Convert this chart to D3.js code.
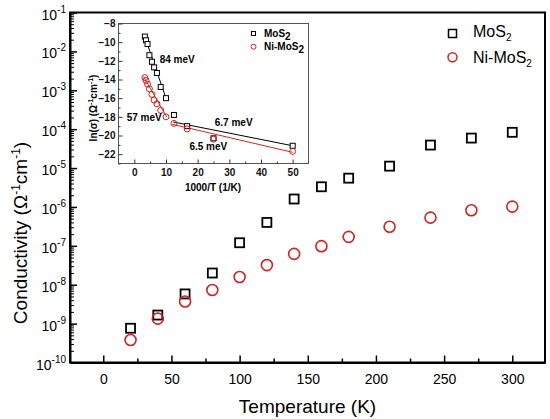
<!DOCTYPE html>
<html>
<head>
<meta charset="utf-8">
<script src="https://cdn.jsdelivr.net/npm/d3@7"></script>
<style>
  body { margin: 0; background: #fff; }
  text { font-family: "Liberation Sans", Arial, sans-serif; }
</style>
</head>
<body>
<svg id="chart" width="550" height="419"></svg>
<script>
// main plot: conductivity vs temperature
var temps = [20, 40, 60, 80, 100, 120, 140, 160, 180, 210, 240, 270, 300];
var sigmaMoS2 = [7.6e-10, 1.66e-9, 5.8e-9, 2.0e-8, 1.2e-7, 4.0e-7, 1.6e-6, 3.3e-6, 5.5e-6, 1.12e-5, 3.9e-5, 5.9e-5, 8.3e-5];
var sigmaNi = [3.8e-10, 1.34e-9, 3.7e-9, 7.3e-9, 1.58e-8, 3.2e-8, 6.2e-8, 9.8e-8, 1.7e-7, 3.1e-7, 5.3e-7, 8.2e-7, 1.02e-6];
var xTicks = [0, 50, 100, 150, 200, 250, 300];
var xMinor = [25, 75, 125, 175, 225, 275];
var yExps = [-10, -9, -8, -7, -6, -5, -4, -3, -2, -1];

// inset: ln(sigma) vs 1000/T
var invT = [3.33, 3.70, 4.17, 4.76, 5.56, 6.25, 7.14, 8.33, 10.0, 12.5, 16.67, 25.0, 50.0];
var lnMoS2 = [-9.4, -9.8, -10.2, -11.4, -12.1, -12.7, -13.3, -14.8, -16.0, -17.8, -19.0, -20.3, -21.1];
var lnNi = [-13.8, -14.1, -14.5, -15.0, -15.6, -16.2, -16.6, -17.3, -18.0, -18.7, -19.3, -20.4, -21.7];
var insetXTicks = [0, 10, 20, 30, 40, 50];
var insetXMinor = [5, 15, 25, 35, 45];
var insetYTicks = [-22, -20, -18, -16, -14, -12, -10, -8];
var insetYMinor = [-23, -21, -19, -17, -15, -13, -11, -9];
var fitMoS2 = [[[3.3, -9.4], [10.1, -16.1]], [[12.3, -18.55], [50, -21.1]]];
var fitNi = [[[2.9, -13.7], [10.2, -18.0]], [[12.0, -18.8], [50, -21.8]]];
var fitLabels = [
  { text: '84 meV', x: 8.0, y: -12.2 },
  { text: '57 meV', x: -2.4, y: -18.4 },
  { text: '6.7 meV', x: 25.4, y: -19.0 },
  { text: '6.5 meV', x: 17.4, y: -21.6 }
];

var RED = '#d02323';
var svg = d3.select('#chart');

var x = d3.scaleLinear().domain([-24.4, 324]).range([70, 545]);
var y = d3.scaleLog().domain([1e-10, 1e-1]).range([362.5, 12.5]);

// frame
svg.append('rect')
  .attr('x', 70).attr('y', 12.5)
  .attr('width', 475).attr('height', 350)
  .attr('fill', 'none').attr('stroke', '#000').attr('stroke-width', 2);

// x axis
var xAxis = svg.append('g')
  .attr('transform', 'translate(0,362.5)')
  .call(d3.axisBottom(x).tickValues(xTicks).tickSizeInner(-7).tickSizeOuter(0).tickPadding(12));
xAxis.select('.domain').attr('stroke-width', 2);
xAxis.selectAll('.tick line').attr('stroke-width', 1.5);
xAxis.selectAll('.tick text').style('font-size', '14px').attr('fill', '#000');

var xAxisMinor = svg.append('g')
  .attr('transform', 'translate(0,362.5)')
  .call(d3.axisBottom(x).tickValues(xMinor).tickSizeInner(-4).tickSizeOuter(0).tickFormat(''));
xAxisMinor.select('.domain').remove();
xAxisMinor.selectAll('.tick line').attr('stroke-width', 1.5);

// y axis (log)
var yMinor = y.ticks().filter(function(v) {
  return Math.abs(Math.log10(v) - Math.round(Math.log10(v))) > 1e-6;
});
var yAxis = svg.append('g')
  .attr('transform', 'translate(70,0)')
  .call(d3.axisLeft(y).tickValues(yExps.map(function(e) { return Math.pow(10, e); }))
    .tickSizeInner(-7).tickSizeOuter(0).tickFormat(''));
yAxis.select('.domain').attr('stroke-width', 2);
yAxis.selectAll('.tick line').attr('stroke-width', 1.5);

var yAxisMinor = svg.append('g')
  .attr('transform', 'translate(70,0)')
  .call(d3.axisLeft(y).tickValues(yMinor).tickSizeInner(-4).tickSizeOuter(0).tickFormat(''));
yAxisMinor.select('.domain').remove();
yAxisMinor.selectAll('.tick line').attr('stroke-width', 1);

var yLab = svg.append('g').selectAll('text')
  .data(yExps).enter().append('text')
  .attr('x', 66)
  .attr('y', function(e) { return y(Math.pow(10, e)) + 7; })
  .attr('text-anchor', 'end')
  .style('font-size', '14px');
yLab.append('tspan').text('10');
yLab.append('tspan').attr('dy', -7).style('font-size', '10px').text(function(e) { return e; });

// axis titles
svg.append('text')
  .attr('x', 307.5).attr('y', 413)
  .attr('text-anchor', 'middle')
  .style('font-size', '19px')
  .text('Temperature (K)');

var yTitle = svg.append('text')
  .attr('transform', 'translate(27,233) rotate(-90)')
  .attr('text-anchor', 'middle')
  .style('font-size', '19px');
yTitle.append('tspan').text('Conductivity (\u03A9');
yTitle.append('tspan').attr('dy', -7).style('font-size', '12px').text('-1');
yTitle.append('tspan').attr('dy', 7).text('cm');
yTitle.append('tspan').attr('dy', -7).style('font-size', '12px').text('-1');
yTitle.append('tspan').attr('dy', 7).text(')');

// main markers
svg.append('g').selectAll('rect')
  .data(temps).enter().append('rect')
  .attr('x', function(t) { return x(t) - 4.5; })
  .attr('y', function(t, i) { return y(sigmaMoS2[i]) - 4.5; })
  .attr('width', 9).attr('height', 9)
  .attr('fill', 'none').attr('stroke', '#000').attr('stroke-width', 1.8);

svg.append('g').selectAll('circle')
  .data(temps).enter().append('circle')
  .attr('cx', function(t) { return x(t); })
  .attr('cy', function(t, i) { return y(sigmaNi[i]); })
  .attr('r', 5.5)
  .attr('fill', 'none').attr('stroke', RED).attr('stroke-width', 1.6);

// main legend
svg.append('rect')
  .attr('x', 448.5).attr('y', 29.5).attr('width', 8).attr('height', 8)
  .attr('fill', 'none').attr('stroke', '#000').attr('stroke-width', 1.5);
svg.append('circle')
  .attr('cx', 452.5).attr('cy', 57.3).attr('r', 4.5)
  .attr('fill', 'none').attr('stroke', RED).attr('stroke-width', 1.5);
[['MoS', 37.3], ['Ni-MoS', 62.7]].forEach(function(d) {
  var t = svg.append('text').attr('x', 473).attr('y', d[1]).style('font-size', '16px');
  t.append('tspan').text(d[0]);
  t.append('tspan').attr('dy', 4).style('font-size', '10px').text('2');
});

// ---------- inset ----------
var ix = d3.scaleLinear().domain([-5, 55]).range([118.5, 308.5]);
var iy = d3.scaleLinear().domain([-23, -8]).range([163.5, 23.5]);
var inset = svg.append('g');

inset.append('rect')
  .attr('x', 118.5).attr('y', 23.5).attr('width', 190).attr('height', 140)
  .attr('fill', '#fff').attr('stroke', '#555').attr('stroke-width', 1);

function insetAxis(gen, vals, size, tr) {
  var g = inset.append('g').attr('transform', tr)
    .call(gen.tickValues(vals).tickSizeInner(size).tickSizeOuter(0));
  g.select('.domain').remove();
  g.selectAll('.tick line').attr('stroke', '#333');
  g.selectAll('.tick text')
    .style('font-size', '10px').style('font-weight', 'bold').attr('fill', '#111');
  return g;
}
insetAxis(d3.axisBottom(ix), insetXTicks, -4, 'translate(0,163.5)').call(function(g) {
  g.selectAll('.tick text').attr('dy', '0.71em').attr('y', 5);
});
insetAxis(d3.axisBottom(ix).tickFormat(''), insetXMinor, -2, 'translate(0,163.5)');
insetAxis(d3.axisLeft(iy), insetYTicks, -4, 'translate(118.5,0)').call(function(g) {
  g.selectAll('.tick text').attr('x', -3);
});
insetAxis(d3.axisLeft(iy).tickFormat(''), insetYMinor, -2, 'translate(118.5,0)');

inset.append('text')
  .attr('x', 213).attr('y', 191)
  .attr('text-anchor', 'middle')
  .style('font-size', '10px').style('font-weight', 'bold')
  .text('1000/T (1/K)');

var iyTitle = inset.append('text')
  .attr('transform', 'translate(97,108) rotate(-90)')
  .attr('text-anchor', 'middle')
  .style('font-size', '10px').style('font-weight', 'bold');
iyTitle.append('tspan').text('ln(\u03C3) (\u03A9');
iyTitle.append('tspan').attr('dy', -4).style('font-size', '7px').text('-1');
iyTitle.append('tspan').attr('dy', 4).text('cm');
iyTitle.append('tspan').attr('dy', -4).style('font-size', '7px').text('-1');
iyTitle.append('tspan').attr('dy', 4).text(')');

var line = d3.line()
  .x(function(d) { return ix(d[0]); })
  .y(function(d) { return iy(d[1]); });

inset.append('g').selectAll('path')
  .data(fitMoS2).enter().append('path')
  .attr('d', line).attr('fill', 'none').attr('stroke', '#000').attr('stroke-width', 1);
inset.append('g').selectAll('path')
  .data(fitNi).enter().append('path')
  .attr('d', line).attr('fill', 'none').attr('stroke', RED).attr('stroke-width', 1);

inset.append('g').selectAll('rect')
  .data(invT).enter().append('rect')
  .attr('x', function(v) { return ix(v) - 2.5; })
  .attr('y', function(v, i) { return iy(lnMoS2[i]) - 2.5; })
  .attr('width', 5).attr('height', 5)
  .attr('fill', '#fff').attr('stroke', '#000').attr('stroke-width', 1);

inset.append('g').selectAll('circle')
  .data(invT).enter().append('circle')
  .attr('cx', function(v) { return ix(v); })
  .attr('cy', function(v, i) { return iy(lnNi[i]); })
  .attr('r', 3)
  .attr('fill', 'none').attr('stroke', RED).attr('stroke-width', 1);

inset.append('g').selectAll('text')
  .data(fitLabels).enter().append('text')
  .attr('x', function(d) { return ix(d.x); })
  .attr('y', function(d) { return iy(d.y); })
  .style('font-size', '10px').style('font-weight', 'bold')
  .text(function(d) { return d.text; });

// inset legend
inset.append('rect')
  .attr('x', 251.5).attr('y', 31.5).attr('width', 4).attr('height', 4)
  .attr('fill', 'none').attr('stroke', '#000').attr('stroke-width', 1);
inset.append('circle')
  .attr('cx', 253.5).attr('cy', 46.7).attr('r', 2.5)
  .attr('fill', 'none').attr('stroke', RED).attr('stroke-width', 1);
[['MoS', 36.5], ['Ni-MoS', 50]].forEach(function(d) {
  var t = inset.append('text').attr('x', 264).attr('y', d[1])
    .style('font-size', '10px').style('font-weight', 'bold');
  t.append('tspan').text(d[0]);
  t.append('tspan').attr('dy', 3).text('2');
});
</script>
</body>
</html>
